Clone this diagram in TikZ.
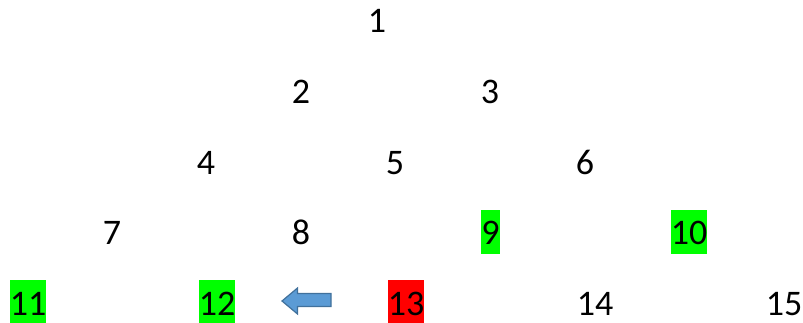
\documentclass[tikz,border=0pt]{standalone}
\usepackage{fontspec}
\setmainfont{Carlito}
\begin{document}
\begin{tikzpicture}[x=1pt,y=1pt,
  num/.style={inner sep=0pt, text height=35pt, text depth=9pt, anchor=base,
    font=\fontsize{36}{43}\selectfont},
  green/.style={fill={rgb,255:red,0;green,255;blue,0}},
  red/.style={fill={rgb,255:red,255;green,0;blue,0}},
  arrowshape/.style={fill={rgb,255:red,91;green,155;blue,213}, draw={rgb,255:red,65;green,113;blue,156}, line width=1.2pt, line join=miter}]
\useasboundingbox (0,0) rectangle (803,322);
\node[num] (n1) at (377,322-33) {1};
\node[num] (n2) at (301,322-103.5) {2};
\node[num] (n3) at (490,322-103.5) {3};
\node[num] (n4) at (206,322-174) {4};
\node[num] (n5) at (395,322-174) {5};
\node[num] (n6) at (585,322-174) {6};
\node[num] (n7) at (112,322-244.5) {7};
\node[num] (n8) at (301,322-244.5) {8};
\node[num,green] (n9) at (490.5,322-244.5) {9};
\node[num,green] (n10) at (689,322-244.5) {10};
\node[num,green] (n11) at (28,322-315) {11};
\node[num,green] (n12) at (217,322-315) {12};
\node[num,red] (n13) at (406,322-315) {13};
\node[num] (n14) at (595,322-315) {14};
\node[num] (n15) at (784,322-315) {15};
\draw[arrowshape] (282,322-301) -- (297.5,322-288) -- (297.5,322-293.5) -- (331,322-293.5)
  -- (331,322-306.5) -- (297.5,322-306.5) -- (297.5,322-314) -- cycle;
\end{tikzpicture}
\end{document}
